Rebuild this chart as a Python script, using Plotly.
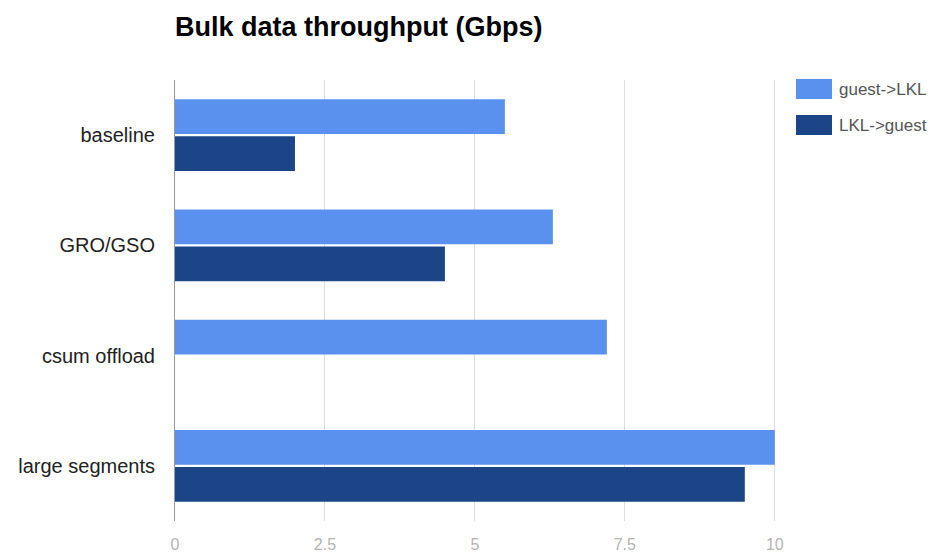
import plotly.graph_objects as go

# ---- data ----
categories = ["baseline", "GRO/GSO", "csum offload", "large segments"]
series_names = ["guest->LKL", "LKL->guest"]
guest_to_lkl = [5.5, 6.3, 7.2, 10.0]
lkl_to_guest = [2.0, 4.5, None, 9.5]
x_ticks = [0, 2.5, 5, 7.5, 10]
x_tick_labels = ["0", "2.5", "5", "7.5", "10"]
title_text = "Bulk data throughput (Gbps)"

colors = ["#5a91ef", "#1c4587"]
FONT = "Liberation Sans, Arial, sans-serif"

W, H = 930, 554
L, R, T, B = 175, 154, 80, 33
pw, ph = W - L - R, H - T - B

fig = go.Figure()
for name, vals, col in zip(series_names, [guest_to_lkl, lkl_to_guest], colors):
    fig.add_trace(go.Bar(
        y=categories, x=vals, name=name, orientation="h",
        marker=dict(color=col, line=dict(width=0)),
        showlegend=False,
    ))

# manual legend (swatches + labels), positioned in paper coordinates
def px_x(p):
    return (p - L) / pw

def px_y(p):
    return (H - B - p) / ph

shapes = []
annotations = []
for i, (name, col) in enumerate(zip(series_names, colors)):
    top = 79 + i * 36
    shapes.append(dict(type="rect", xref="paper", yref="paper",
                       x0=px_x(796), x1=px_x(832), y0=px_y(top + 20), y1=px_y(top),
                       fillcolor=col, line=dict(width=0)))
    annotations.append(dict(text=name, xref="paper", yref="paper",
                            x=px_x(837), y=px_y(top + 10), xanchor="left", yanchor="middle",
                            showarrow=False, font=dict(family=FONT, size=17, color="#555555")))

fig.update_layout(
    width=W, height=H,
    margin=dict(l=L, r=R, t=T, b=B, pad=0),
    paper_bgcolor="white", plot_bgcolor="white",
    barmode="group", bargap=0.33, bargroupgap=0.06,
    title=dict(text=title_text, x=L / W, xanchor="left", xref="container",
               y=1 - 27 / H, yanchor="middle", yref="container",
               font=dict(family=FONT, size=27, color="#000000", weight="bold")),
    xaxis=dict(range=[0, 10.02], tickvals=x_ticks, ticktext=x_tick_labels,
               showgrid=True, gridcolor="#dddddd", gridwidth=1,
               zeroline=False, showline=False, ticks="", automargin=False,
               ticklabelstandoff=12,
               tickfont=dict(family=FONT, size=16, color="#b3b3b3")),
    yaxis=dict(autorange="reversed", showgrid=False, zeroline=False,
               showline=True, linecolor="#999999", linewidth=1, ticks="",
               automargin=False, ticklabelstandoff=15,
               tickfont=dict(family=FONT, size=20, color="#222222")),
    shapes=shapes, annotations=annotations,
    font=dict(family=FONT),
)

fig.write_html("out.html")
